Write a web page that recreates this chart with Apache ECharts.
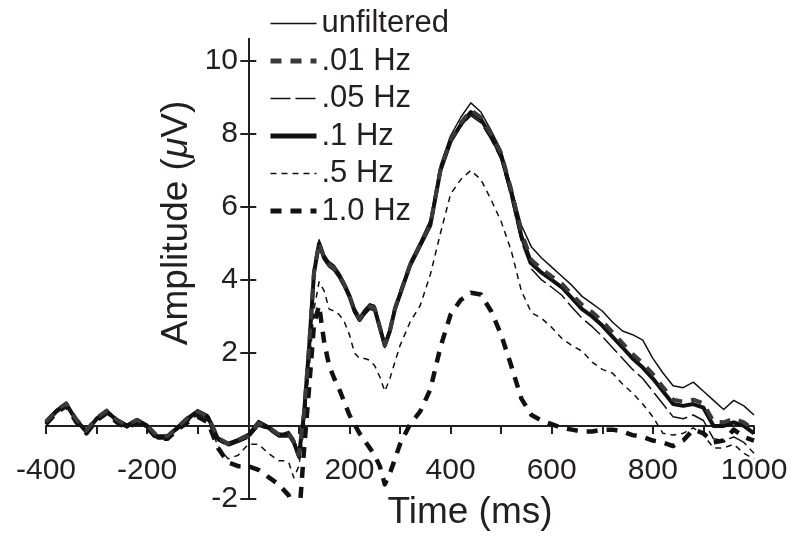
<!DOCTYPE html>
<html>
<head>
<meta charset="utf-8">
<script src="https://cdn.jsdelivr.net/npm/echarts@6/dist/echarts.min.js"></script>
<style>
html,body{margin:0;padding:0;background:#fff;}
#chart{width:800px;height:546px;}
</style>
</head>
<body>
<div id="chart"></div>
<script>
// Time points (ms)
const times = [-400,-380,-360,-340,-320,-300,-280,-260,-240,-220,-200,-180,-160,-140,-120,-100,-80,-60,-40,-20,0,20,40,60,
  70,80,90,100,110,120,130,140,150,160,170,180,190,200,210,220,230,240,250,260,270,280,290,300,
  320,340,360,380,400,420,440,460,480,500,520,540,560,580,600,620,640,660,680,700,720,740,760,780,800,820,840,860,880,900,920,940,960,980,1000];

const unfiltered = [0.15,0.45,0.65,0.2,-0.1,0.2,0.45,0.2,0.05,0.2,0.05,-0.25,-0.25,0.0,0.25,0.45,0.3,-0.3,-0.45,-0.35,-0.2,0.15,0.0,-0.2,
  -0.2,-0.15,-0.35,-0.75,0.4,2.2,4.3,5.1,4.7,4.5,4.4,4.2,3.95,3.65,3.25,3.0,3.2,3.35,3.3,2.8,2.3,2.7,3.3,3.7,
  4.5,5.05,5.65,7.15,7.95,8.45,8.85,8.6,8.1,7.55,6.55,5.5,4.9,4.6,4.35,4.1,3.85,3.55,3.35,3.15,2.85,2.6,2.5,2.35,1.85,1.45,1.1,1.05,1.2,0.95,0.7,0.45,0.7,0.55,0.3];

const hz001 = [0.12,0.42,0.62,0.18,-0.12,0.22,0.42,0.17,0.02,0.17,0.02,-0.28,-0.28,-0.03,0.22,0.4,0.27,-0.33,-0.48,-0.38,-0.26,0.07,-0.03,-0.23,
  -0.23,-0.21,-0.43,-0.8,0.33,2.13,4.23,5.02,4.62,4.42,4.32,4.12,3.87,3.57,3.17,2.92,3.12,3.27,3.22,2.72,2.22,2.62,3.22,3.62,
  4.42,4.97,5.52,7.03,7.85,8.3,8.65,8.45,8.0,7.47,6.47,5.3,4.55,4.3,4.1,3.9,3.6,3.32,3.12,2.87,2.57,2.27,1.97,1.72,1.42,1.07,0.72,0.67,0.72,0.62,0.12,0.1,0.2,0.1,-0.1];

const hz005 = [0.05,0.35,0.55,0.1,-0.2,0.15,0.35,0.1,-0.05,0.1,-0.05,-0.35,-0.35,-0.1,0.15,0.33,0.2,-0.4,-0.55,-0.45,-0.33,0.0,-0.1,-0.3,
  -0.3,-0.3,-0.5,-0.9,0.25,2.05,4.15,4.95,4.55,4.35,4.25,4.05,3.8,3.5,3.1,2.85,3.05,3.2,3.15,2.65,2.15,2.55,3.15,3.55,
  4.35,4.9,5.45,6.95,7.75,8.2,8.5,8.3,7.85,7.3,6.25,5.05,4.3,4.0,3.8,3.58,3.25,2.95,2.72,2.45,2.15,1.85,1.55,1.3,0.95,0.6,0.25,0.2,0.3,0.15,-0.35,-0.4,-0.3,-0.45,-0.75];

const hz01 = [0.1,0.4,0.6,0.15,-0.15,0.2,0.4,0.15,0.0,0.15,0.0,-0.3,-0.3,-0.05,0.2,0.38,0.25,-0.35,-0.5,-0.4,-0.28,0.05,-0.05,-0.25,
  -0.25,-0.23,-0.45,-0.83,0.3,2.1,4.2,5.0,4.6,4.4,4.3,4.1,3.85,3.55,3.15,2.9,3.1,3.25,3.2,2.7,2.2,2.6,3.2,3.6,
  4.4,4.95,5.5,7.0,7.8,8.25,8.6,8.4,7.95,7.4,6.4,5.2,4.45,4.2,4.0,3.8,3.5,3.2,3.0,2.75,2.45,2.15,1.85,1.6,1.3,0.95,0.6,0.55,0.6,0.5,0.0,0.0,0.1,0.0,-0.2];

const hz05 = [0.05,0.35,0.55,0.1,-0.2,0.15,0.35,0.1,-0.05,0.1,-0.05,-0.35,-0.35,-0.1,0.12,0.3,0.15,-0.55,-0.9,-0.8,-0.5,-0.5,-0.75,-0.95,
  -0.95,-1.0,-1.42,-1.1,-0.1,1.5,3.2,3.95,3.7,3.2,3.15,3.05,2.85,2.5,2.0,1.85,1.85,1.8,1.65,1.35,0.95,1.3,1.75,2.2,
  2.85,3.3,4.15,5.28,6.35,6.75,7.0,6.75,6.2,5.6,4.8,3.7,3.1,2.95,2.7,2.4,2.2,2.05,1.75,1.55,1.45,1.15,0.9,0.6,0.25,-0.2,-0.25,-0.2,-0.05,-0.25,-0.6,-0.6,-0.5,-0.75,-0.9];

const hz10 = [0.05,0.35,0.55,0.1,-0.2,0.15,0.35,0.1,-0.05,0.1,-0.05,-0.35,-0.35,-0.1,0.1,0.25,0.1,-0.6,-1.0,-1.1,-1.1,-1.2,-1.4,-1.6,
  -1.75,-1.9,-2.3,-2.6,-0.7,1.0,2.8,3.3,2.3,1.65,1.3,1.0,0.65,0.3,0.05,-0.2,-0.4,-0.6,-0.8,-1.1,-1.6,-1.3,-0.9,-0.5,
  0.05,0.4,1.0,2.16,3.05,3.45,3.65,3.6,3.15,2.5,1.65,0.75,0.3,0.15,0.05,-0.05,-0.1,-0.15,-0.15,-0.1,-0.1,-0.15,-0.25,-0.3,-0.4,-0.45,-0.55,-0.4,-0.1,-0.2,-0.45,-0.4,-0.1,-0.3,-0.4];

const xLabelValues = [-400,-200,200,400,600,800,1000];
const yLabelValues = [-2,2,4,6,8,10];
const yTickValues = [-2,0,2,4,6,8,10];

const INK = '#231f20';
const FONT = '"Liberation Sans", Arial, Helvetica, sans-serif';

function pts(vals){ return times.map((t,i)=>[t, vals[i]]); }

const chart = echarts.init(document.getElementById('chart'), null, {renderer:'canvas'});

const mk = (name, vals, width, type, color, z) => ({
  name, type:'line', data: pts(vals), symbol:'none', smooth:false, z,
  lineStyle:{color, width, type, join:'round', cap:'butt'},
  itemStyle:{color},
  emphasis:{disabled:true}, silent:true
});

chart.setOption({
  animation:false,
  grid:{left:46, right:46, top:39, bottom:47, containLabel:false, outerBoundsMode:'none'},
  xAxis:{
    type:'value', min:-400, max:1000, interval:100,
    axisLine:{onZero:true, onZeroAxisIndex:0, lineStyle:{color:INK, width:2}},
    axisTick:{show:true, inside:false, length:8, lineStyle:{color:INK, width:2}},
    axisLabel:{customValues:xLabelValues, color:INK, fontSize:30, fontFamily:FONT, margin:-43,
      formatter:(v)=>String(v)},
    splitLine:{show:false}
  },
  yAxis:[{
    type:'value', min:-2, max:10.6, interval:2, position:'left',
    axisLine:{show:true, onZero:true, onZeroAxisIndex:0, lineStyle:{color:INK, width:2}},
    axisTick:{show:true, customValues:yTickValues, inside:false, length:8, lineStyle:{color:INK, width:2}},
    axisLabel:{customValues:yLabelValues, color:INK, fontSize:30, fontFamily:FONT, margin:-192,
      formatter:(v)=>String(v)},
    splitLine:{show:false}
  },{
    type:'value', min:-2, max:10.6, interval:2, position:'left',
    axisLine:{show:true, onZero:true, onZeroAxisIndex:0, lineStyle:{color:INK, width:2}},
    axisTick:{show:true, customValues:yTickValues, inside:true, length:8, lineStyle:{color:INK, width:2}},
    axisLabel:{show:false},
    splitLine:{show:false}
  }],
  legend:{
    orient:'vertical', left:268, top:8, padding:0, itemGap:6.5,
    itemWidth:46, itemHeight:4,
    itemStyle:{opacity:0},
    textStyle:{color:INK, fontSize:31, fontFamily:FONT, lineHeight:31},
    selectedMode:false,
    data:[
      {name:'unfiltered', lineStyle:{width:1.5}},
      {name:'.01 Hz', lineStyle:{width:5}},
      {name:'.05 Hz', lineStyle:{width:1.5}},
      {name:'.1 Hz', lineStyle:{width:5}},
      {name:'.5 Hz', lineStyle:{width:1.5}},
      {name:'1.0 Hz', lineStyle:{width:5}}
    ]
  },
  graphic:[
    {type:'text', x:177, y:223, rotation:Math.PI/2,
     style:{text:'{n|Amplitude (}{i|μ}{n|V)}', textAlign:'center', textVerticalAlign:'middle',
       rich:{n:{fontSize:37, fontFamily:FONT, fill:INK}, i:{fontSize:37, fontFamily:FONT, fontStyle:'italic', fill:INK}}}},
    {type:'text', x:470, y:513,
     style:{text:'Time (ms)', textAlign:'center', textVerticalAlign:'middle', fontSize:37, fontFamily:FONT, fill:INK}}
  ],
  series:[
    mk('.5 Hz', hz05, 1.5, [6,5], '#111', 2),
    mk('1.0 Hz', hz10, 4.5, [11,9], '#111', 3),
    mk('.05 Hz', hz005, 1.5, [20,5], '#111', 4),
    mk('unfiltered', unfiltered, 1.5, 'solid', '#111', 5),
    mk('.1 Hz', hz01, 4, 'solid', '#111', 6),
    mk('.01 Hz', hz001, 4, [11,9], '#3a3a3a', 7)
  ]
});
</script>
</body>
</html>
